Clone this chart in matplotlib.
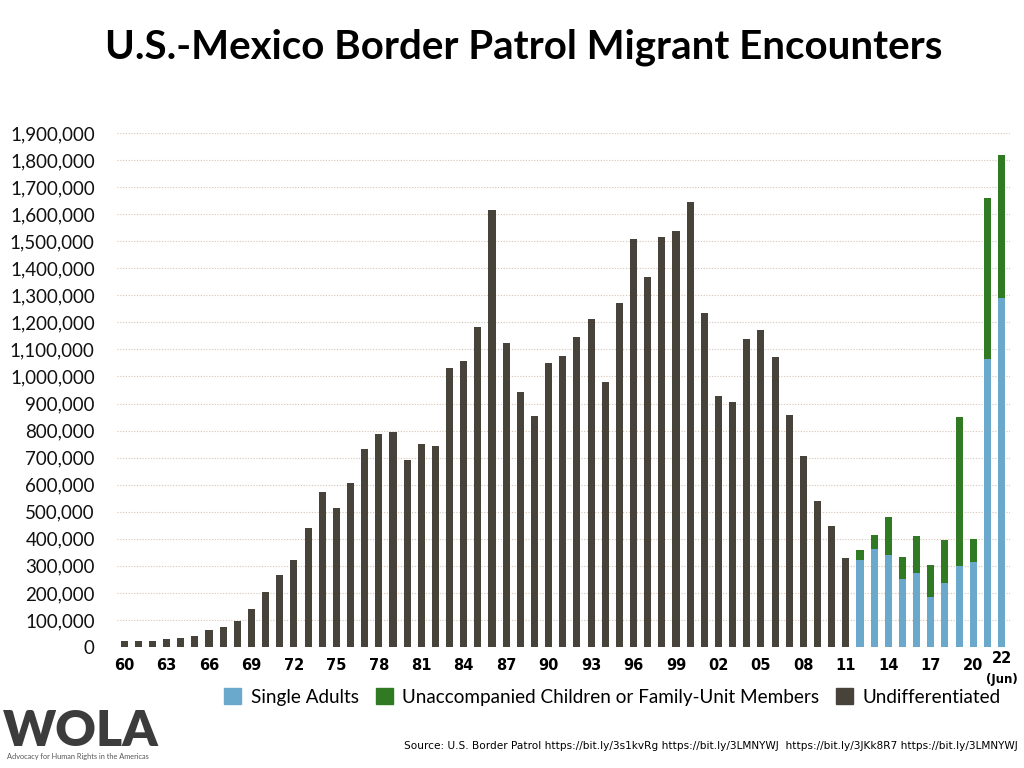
#import libraries to build the chart
import matplotlib.pyplot as plt
from matplotlib.patches import Patch
from matplotlib.ticker import FuncFormatter

#fiscal years with no breakdown (1960 - 2011)
undiff_years = list(range(1960, 2012))
undiff_values = [21000, 22700, 22300, 30300, 33400, 39100, 63000, 73700, 96600, 141200,
                 202200, 266200, 321000, 441700, 572000, 512000, 607000, 731000, 789000, 795000,
                 690000, 749000, 744000, 1033000, 1057000, 1182000, 1617000, 1123000, 941000, 853000,
                 1049000, 1077000, 1145000, 1212000, 979000, 1271000, 1507000, 1368000, 1517000, 1537000,
                 1644000, 1236000, 929000, 905000, 1139000, 1171000, 1072000, 858000, 705000, 541000,
                 448000, 328000]

#fiscal years split by demographic (2012 - 2022)
split_years = list(range(2012, 2023))
single_adults = [321000, 361000, 341000, 250000, 272000, 186000, 237000, 301000, 316000, 1063000, 1291000]
family_uac = [36000, 53000, 138000, 81000, 137000, 118000, 160000, 550000, 85000, 596000, 527000]

tick_years = list(range(1960, 2021, 3))
tick_labels = ['60', '63', '66', '69', '72', '75', '78', '81', '84', '87', '90',
               '93', '96', '99', '02', '05', '08', '11', '14', '17', '20']

dark = '#47433a'
blue = '#6ba9cc'
green = '#2f7a22'
narrow = ['Liberation Sans Narrow', 'DejaVu Sans']

fig = plt.figure(figsize=(10.24, 7.68), dpi=100)
ax = fig.add_axes([117 / 1024, 1 - 647 / 768, (1010 - 117) / 1024, (647 - 133) / 768])

ax.bar(undiff_years, undiff_values, width=0.5, color=dark, zorder=3)
ax.bar(split_years, single_adults, width=0.5, color=blue, zorder=3)
ax.bar(split_years, family_uac, width=0.5, bottom=single_adults, color=green, zorder=3)

ax.set_xlim(1959.5, 2022.6)
ax.set_ylim(0, 1900000)
ax.set_yticks(range(0, 1900001, 100000))
ax.yaxis.set_major_formatter(FuncFormatter(lambda v, p: f'{int(v):,}'))
ax.tick_params(axis='y', length=0, pad=16, labelsize=13.5, labelcolor='#111111')
for lab in ax.get_yticklabels():
    lab.set_fontfamily('Lato')

ax.set_xticks(tick_years)
ax.set_xticklabels(tick_labels)
ax.tick_params(axis='x', length=0, pad=8, labelsize=10.5)
for lab in ax.get_xticklabels():
    lab.set_fontfamily(narrow)
    lab.set_fontweight('bold')

#last year is partial, label sits a bit higher with (Jun) underneath
ax.text(2022, -15000, '22', ha='center', va='top', fontsize=10.5, fontweight='bold', family=narrow)
ax.text(2022, -95000, '(Jun)', ha='center', va='top', fontsize=8.5, fontweight='bold', family=narrow)

ax.grid(axis='y', linestyle=(0, (1, 1.5)), color='#d8c4b4', linewidth=0.8, zorder=0)
for s in ax.spines.values():
    s.set_visible(False)

fig.text(0.511, 1 - 47 / 768, 'U.S.-Mexico Border Patrol Migrant Encounters', ha='center', va='center',
         fontsize=29, fontweight='bold', family='Lato')

handles = [Patch(color=blue), Patch(color=green), Patch(color=dark)]
labels = ['Single Adults', 'Unaccompanied Children or Family-Unit Members', 'Undifferentiated']
fig.legend(handles, labels, ncol=3, loc='center right', bbox_to_anchor=(1018 / 1024, 1 - 697 / 768),
           frameon=False, handlelength=0.9, handleheight=0.9, handletextpad=0.5, columnspacing=0.9,
           prop={'family': 'Lato', 'size': 13.6})

#WOLA logo as text
fig.text(3 / 1024, 1 - 731 / 768, 'WOLA', ha='left', va='center', fontsize=36, fontweight='heavy',
         family='Lato', color='#3c3c3c')
fig.text(7 / 1024, 1 - 757 / 768, 'Advocacy for Human Rights in the Americas', ha='left', va='center',
         fontsize=5.3, family='Lato', color='#555555')

fig.text(1018 / 1024, 1 - 746 / 768,
         'Source: U.S. Border Patrol https://bit.ly/3s1kvRg https://bit.ly/3LMNYWJ  https://bit.ly/3JKk8R7 https://bit.ly/3LMNYWJ',
         ha='right', va='center', fontsize=7.6, family=narrow)

fig.savefig('out.png', dpi=100)
